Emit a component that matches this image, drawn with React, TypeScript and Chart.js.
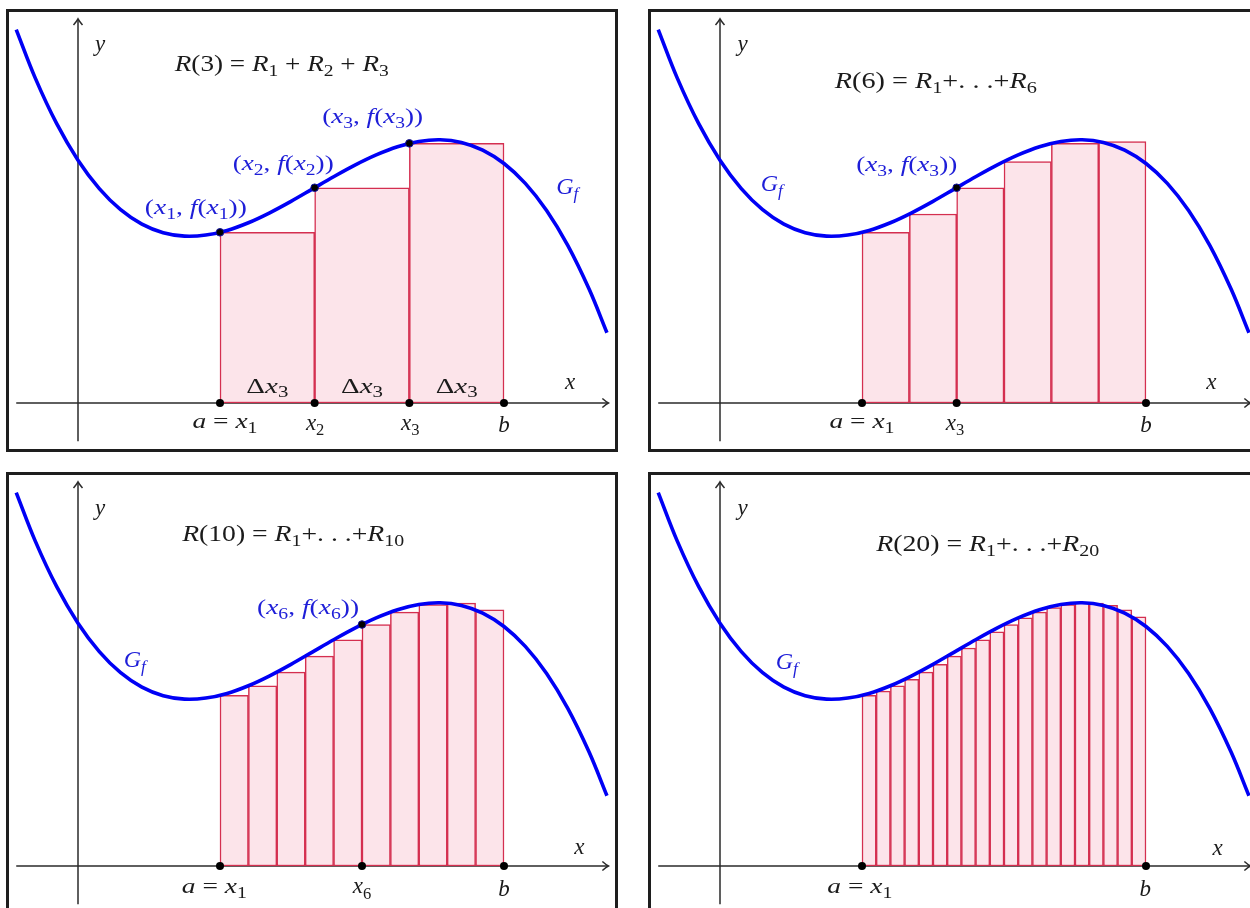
import React, { useEffect, useRef } from "react";
import { Chart, registerables } from "chart.js";

Chart.register(...registerables);

// Interval [a, b]
const A = 2;
const B = 6;

const curveX = [-0.87, -0.6, -0.3, 0, 0.3, 0.6, 0.9, 1.2, 1.5, 1.8, 2.1, 2.4, 2.7, 3.0, 3.3, 3.6, 3.9, 4.2, 4.5, 4.8, 5.1, 5.4, 5.7, 6.0, 6.3, 6.6, 6.9, 7.2, 7.45];
const curveY = [5.26, 4.572, 3.934, 3.42, 3.02, 2.723, 2.519, 2.398, 2.35, 2.365, 2.431, 2.539, 2.679, 2.84, 3.013, 3.186, 3.35, 3.494, 3.609, 3.683, 3.707, 3.67, 3.562, 3.373, 3.093, 2.711, 2.217, 1.601, 0.99];

// Left endpoints and heights of the rectangles
const r3X = [2, 3.333, 4.667];
const r3H = [2.404, 3.032, 3.657];
const r6X = [2, 2.667, 3.333, 4, 4.667, 5.333];
const r6H = [2.404, 2.662, 3.032, 3.401, 3.657, 3.681];
const r10X = [2, 2.4, 2.8, 3.2, 3.6, 4.0, 4.4, 4.8, 5.2, 5.6];
const r10H = [2.404, 2.539, 2.731, 2.955, 3.186, 3.401, 3.575, 3.683, 3.702, 3.607];
const r20X = [2, 2.2, 2.4, 2.6, 2.8, 3.0, 3.2, 3.4, 3.6, 3.8, 4.0, 4.2, 4.4, 4.6, 4.8, 5.0, 5.2, 5.4, 5.6, 5.8];
const r20H = [2.404, 2.463, 2.539, 2.63, 2.731, 2.84, 2.955, 3.071, 3.186, 3.297, 3.401, 3.494, 3.575, 3.638, 3.683, 3.705, 3.702, 3.67, 3.607, 3.509];

// Axis extents (math units)
const xAxisEnds = [-0.87, 7.47];
const yAxisEnds = [-0.54, 5.41];

const BLACK = "#1b1b1b";
const BLUE = "#1e1ed8";
const CURVE = "#0000f5";
const RECT_BORDER = "#d42f50";
const RECT_FILL = "#fce4ea";

const W = 606;
const H = 437;
const X_MIN = -69 / 71;
const X_MAX = (W - 69) / 71;
const Y_MAX = 391 / 71;
const Y_MIN = -(H - 391) / 71;

type Label = [string, number, number, number, string, number?];

const PANELS: {
  left: number;
  top: number;
  xs: number[];
  hs: number[];
  curveDots: number[];
  axisDots: number[];
  labels: Label[];
}[] = [
  {
    left: 6,
    top: 9,
    xs: r3X,
    hs: r3H,
    curveDots: [0, 1, 2],
    axisDots: [0, 1, 2],
    labels: [
      ["y", 0.31, 5.06, 23, BLACK],
      ["R(3) = R_1 + R_2 + R_3", 2.87, 4.79, 23, BLACK, 214],
      ["(x_1, f(x_1))", 1.66, 2.76, 22, BLUE, 102],
      ["(x_2, f(x_2))", 2.89, 3.38, 22, BLUE, 101],
      ["(x_3, f(x_3))", 4.15, 4.04, 22, BLUE, 101],
      ["G_f", 6.89, 3.06, 24, BLUE],
      ["Δx_3", 2.667, 0.25, 22, BLACK, 42],
      ["Δx_3", 4.0, 0.25, 22, BLACK, 42],
      ["Δx_3", 5.333, 0.25, 22, BLACK, 42],
      ["a = x_1", 2.07, -0.25, 22, BLACK, 65],
      ["x_2", 3.34, -0.27, 23, BLACK],
      ["x_3", 4.68, -0.27, 23, BLACK],
      ["b", 6.0, -0.3, 23, BLACK],
      ["x", 6.93, 0.31, 23, BLACK],
    ],
  },
  {
    left: 648,
    top: 9,
    xs: r6X,
    hs: r6H,
    curveDots: [2],
    axisDots: [0, 2],
    labels: [
      ["y", 0.32, 5.06, 23, BLACK],
      ["R(6) = R_1+. . .+R_6", 3.04, 4.55, 23, BLACK, 202],
      ["G_f", 0.73, 3.1, 24, BLUE],
      ["(x_3, f(x_3))", 2.63, 3.37, 22, BLUE, 101],
      ["a = x_1", 2.0, -0.25, 22, BLACK, 65],
      ["x_3", 3.31, -0.27, 23, BLACK],
      ["b", 6.0, -0.3, 23, BLACK],
      ["x", 6.92, 0.31, 23, BLACK],
    ],
  },
  {
    left: 6,
    top: 472,
    xs: r10X,
    hs: r10H,
    curveDots: [5],
    axisDots: [0, 5],
    labels: [
      ["y", 0.31, 5.05, 23, BLACK],
      ["R(10) = R_1+. . .+R_10", 3.03, 4.68, 23, BLACK, 222],
      ["G_f", 0.8, 2.92, 24, BLUE],
      ["(x_6, f(x_6))", 3.24, 3.65, 22, BLUE, 102],
      ["a = x_1", 1.92, -0.28, 22, BLACK, 65],
      ["x_6", 4.0, -0.28, 23, BLACK],
      ["b", 6.0, -0.32, 23, BLACK],
      ["x", 7.06, 0.28, 23, BLACK],
    ],
  },
  {
    left: 648,
    top: 472,
    xs: r20X,
    hs: r20H,
    curveDots: [],
    axisDots: [0],
    labels: [
      ["y", 0.32, 5.05, 23, BLACK],
      ["R(20) = R_1+. . .+R_20", 3.77, 4.54, 23, BLACK, 223],
      ["G_f", 0.94, 2.89, 24, BLUE],
      ["a = x_1", 1.97, -0.28, 22, BLACK, 65],
      ["b", 5.99, -0.32, 23, BLACK],
      ["x", 7.01, 0.26, 23, BLACK],
    ],
  },
];

type Tok = { s: string; it: boolean; sub: boolean; w?: number };

function parseMath(s: string): Tok[] {
  const out: Tok[] = [];
  let i = 0;
  while (i < s.length) {
    const c = s[i];
    if (c === "_") {
      let j = i + 1;
      if (/[0-9]/.test(s[j])) {
        while (j < s.length && /[0-9]/.test(s[j])) j++;
      } else j++;
      const sub = s.slice(i + 1, j);
      out.push({ s: sub, it: /[a-zA-Z]/.test(sub), sub: true });
      i = j;
    } else {
      out.push({ s: c, it: /[a-zA-Z]/.test(c), sub: false });
      i++;
    }
  }
  return out;
}

const FAMILY = '"Liberation Serif", "Times New Roman", serif';

function fontFor(t: Tok, size: number) {
  const sz = t.sub ? size * 0.72 : size;
  return `${t.it ? "italic " : ""}${sz}px ${FAMILY}`;
}

function drawMath(ctx: CanvasRenderingContext2D, text: string, cx: number, cy: number, size: number, color: string, width?: number) {
  const toks = parseMath(text);
  let total = 0;
  for (const t of toks) {
    ctx.font = fontFor(t, size);
    t.w = ctx.measureText(t.s).width;
    total += t.w;
  }
  const sx = width ? width / total : 1;
  ctx.save();
  ctx.translate(cx, cy + size * 0.33);
  ctx.scale(sx, 1);
  ctx.fillStyle = color;
  ctx.textBaseline = "alphabetic";
  ctx.textAlign = "left";
  let x = -total / 2;
  for (const t of toks) {
    ctx.font = fontFor(t, size);
    ctx.fillText(t.s, x, t.sub ? size * 0.22 : 0);
    x += t.w || 0;
  }
  ctx.restore();
}

function Panel({ cfg }: { cfg: (typeof PANELS)[number] }) {
  const ref = useRef<HTMLCanvasElement>(null);
  useEffect(() => {
    if (!ref.current) return;
    const n = cfg.xs.length;
    const dx = (B - A) / n;

    const decor = {
      id: "decor",
      beforeDatasetsDraw(chart: any) {
        const ctx = chart.ctx as CanvasRenderingContext2D;
        const xs = chart.scales.x;
        const ys = chart.scales.y;
        const x0 = xs.getPixelForValue(0);
        const y0 = ys.getPixelForValue(0);
        ctx.save();
        ctx.strokeStyle = "#2a2a2a";
        ctx.lineWidth = 1.5;
        // x axis
        const xa = xs.getPixelForValue(xAxisEnds[0]);
        const xb = xs.getPixelForValue(xAxisEnds[1]);
        ctx.beginPath();
        ctx.moveTo(xa, y0);
        ctx.lineTo(xb, y0);
        ctx.stroke();
        ctx.beginPath();
        ctx.moveTo(xb - 6, y0 - 4.5);
        ctx.quadraticCurveTo(xb - 2, y0 - 1, xb, y0);
        ctx.quadraticCurveTo(xb - 2, y0 + 1, xb - 6, y0 + 4.5);
        ctx.stroke();
        // y axis
        const ya = ys.getPixelForValue(yAxisEnds[0]);
        const yb = ys.getPixelForValue(yAxisEnds[1]);
        ctx.beginPath();
        ctx.moveTo(x0, ya);
        ctx.lineTo(x0, yb);
        ctx.stroke();
        ctx.beginPath();
        ctx.moveTo(x0 - 4.5, yb + 6);
        ctx.quadraticCurveTo(x0 - 1, yb + 2, x0, yb);
        ctx.quadraticCurveTo(x0 + 1, yb + 2, x0 + 4.5, yb + 6);
        ctx.stroke();
        ctx.restore();
      },
      afterDatasetsDraw(chart: any) {
        const ctx = chart.ctx as CanvasRenderingContext2D;
        const xs = chart.scales.x;
        const ys = chart.scales.y;
        for (const l of cfg.labels) {
          drawMath(ctx, l[0], xs.getPixelForValue(l[1]), ys.getPixelForValue(l[2]), l[3], l[4], l[5]);
        }
      },
    };

    const chart = new Chart(ref.current, {
      type: "bar",
      data: {
        datasets: [
          {
            type: "line",
            data: cfg.curveDots.map((i) => ({ x: cfg.xs[i], y: cfg.hs[i] })),
            showLine: false,
            pointRadius: 3.8,
            pointBackgroundColor: "#000",
            pointBorderColor: "#1010a0",
            pointBorderWidth: 1,
          } as any,
          {
            type: "line",
            data: [...cfg.axisDots.map((i) => ({ x: cfg.xs[i], y: 0 })), { x: B, y: 0 }],
            showLine: false,
            pointRadius: 4,
            pointBackgroundColor: "#000",
            pointBorderColor: "#000",
            pointBorderWidth: 0,
          } as any,
          {
            type: "line",
            data: curveX.map((x, i) => ({ x, y: curveY[i] })),
            borderColor: CURVE,
            borderWidth: 3.6,
            pointRadius: 0,
            tension: 0.35,
            fill: false,
          } as any,
          {
            type: "bar",
            data: cfg.xs.map((x, i) => ({ x: x + dx / 2, y: cfg.hs[i] })),
            backgroundColor: RECT_FILL,
            borderColor: RECT_BORDER,
            borderWidth: 1.5,
            borderSkipped: false,
            barPercentage: 1,
            categoryPercentage: 1,
            grouped: false,
          } as any,
        ],
      },
      options: {
        animation: false,
        responsive: false,
        devicePixelRatio: 1,
        events: [],
        layout: { padding: 0, autoPadding: false },
        plugins: { legend: { display: false }, tooltip: { enabled: false } },
        scales: {
          x: {
            type: "linear",
            min: X_MIN,
            max: X_MAX,
            offset: false,
            display: false,
            afterBuildTicks: (s: any) => {
              s.ticks = [{ value: s.min }, { value: s.max }];
            },
          },
          y: {
            type: "linear",
            min: Y_MIN,
            max: Y_MAX,
            display: false,
          },
        },
      } as any,
      plugins: [decor],
    });
    return () => chart.destroy();
  }, [cfg]);

  return (
    <div
      style={{
        position: "absolute",
        left: cfg.left,
        top: cfg.top,
        width: W,
        height: H,
        border: "3px solid #1e1e1e",
        background: "#fff",
      }}
    >
      <canvas ref={ref} width={W} height={H} style={{ display: "block", width: W, height: H }} />
    </div>
  );
}

export default function App() {
  return (
    <div
      style={{
        position: "fixed",
        left: 0,
        top: 0,
        width: 1250,
        height: 908,
        overflow: "hidden",
        background: "#fff",
      }}
    >
      {PANELS.map((p, i) => (
        <Panel key={i} cfg={p} />
      ))}
    </div>
  );
}
